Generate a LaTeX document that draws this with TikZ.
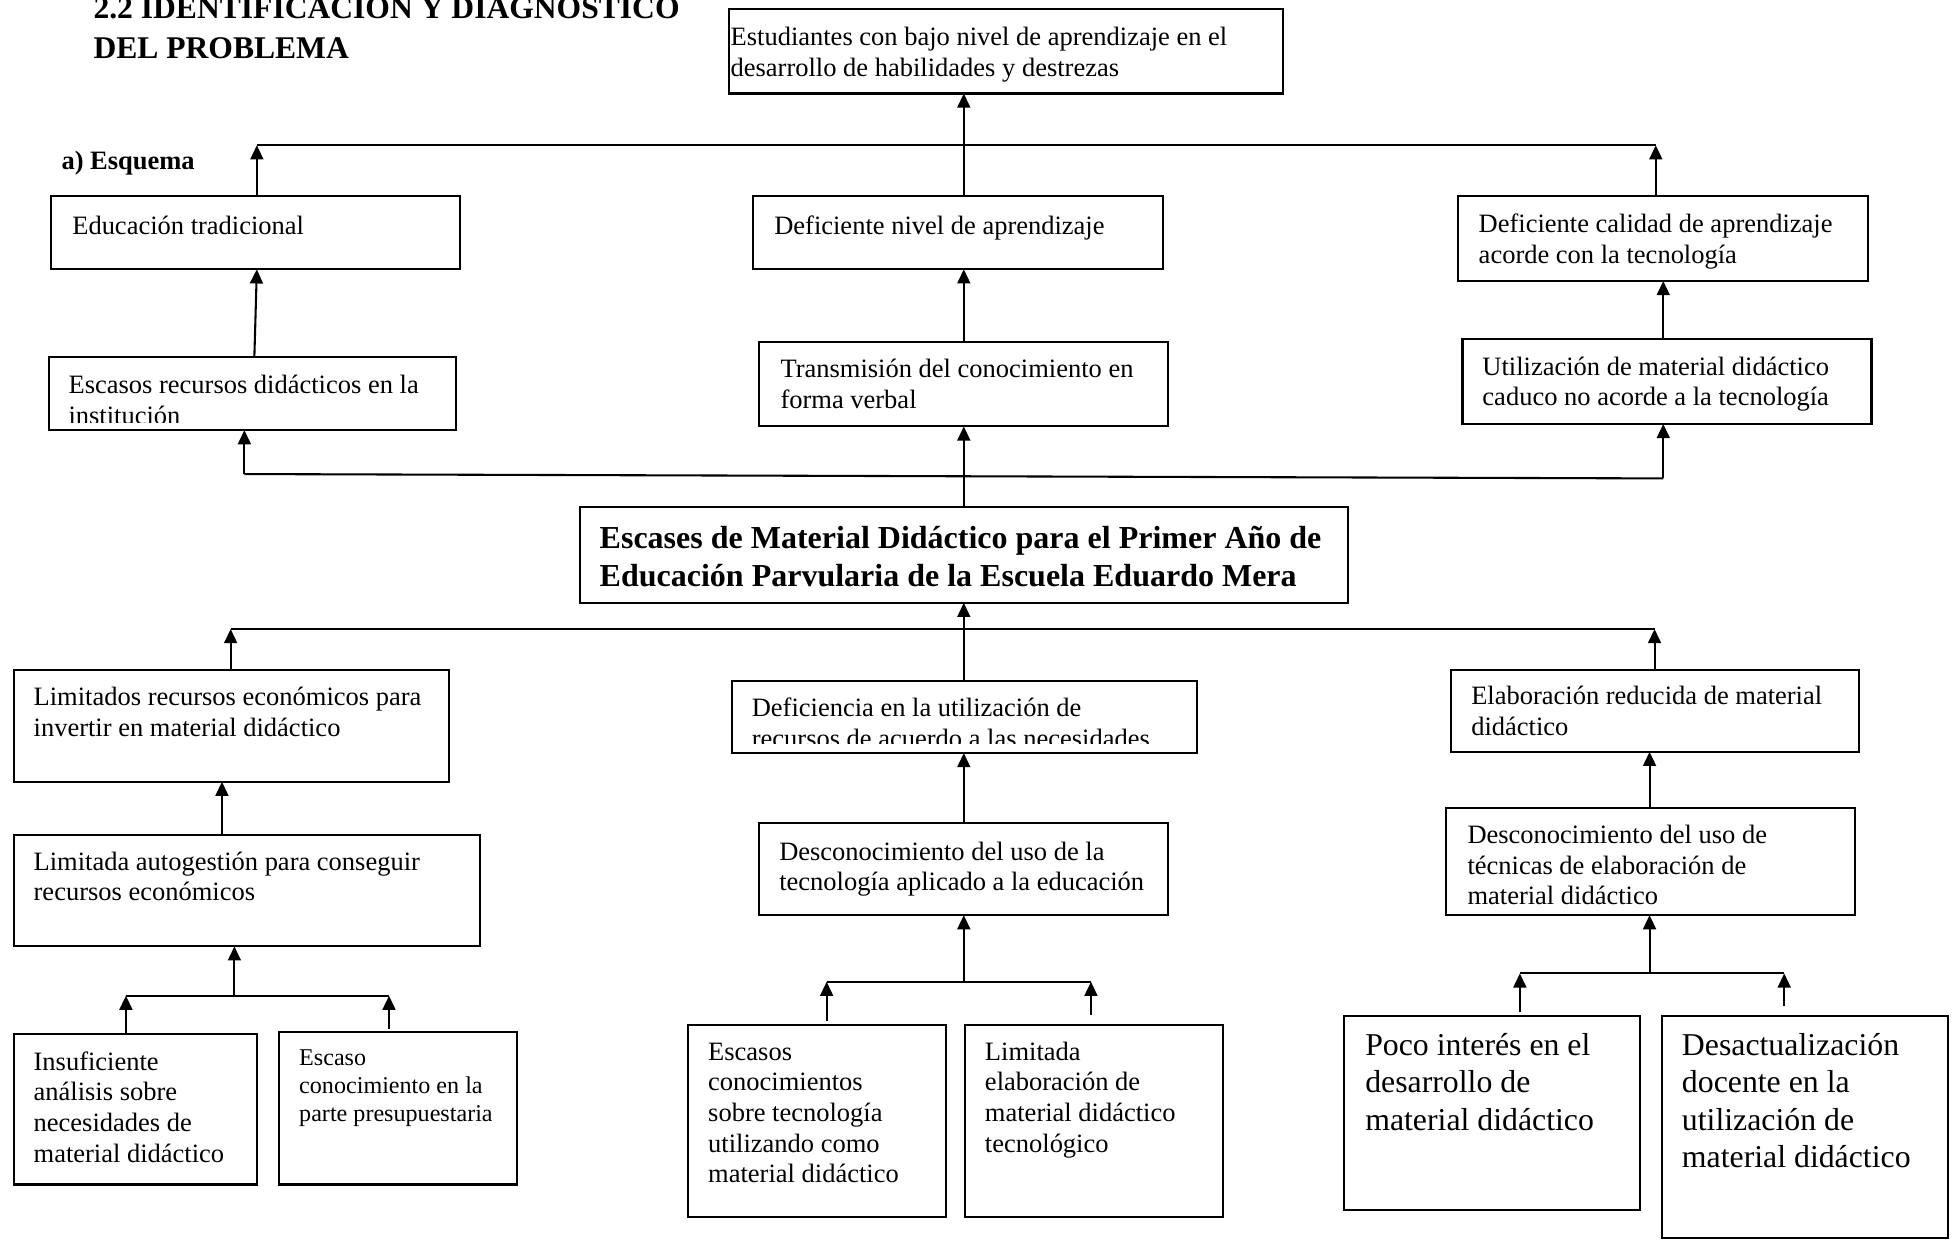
\documentclass[tikz,border=0pt]{standalone}
\usepackage{fontspec}
\setmainfont{Liberation Serif}
\usetikzlibrary{arrows.meta,calc}
\newcommand{\st}{\rule{0pt}{1em}}
\newcommand{\bx}[5]{\node[boxn,minimum width={(#4-#2)*0.6pt},minimum height={(#5-#3)*0.6pt}] (#1) at (#2,#3) {};}
\begin{document}
\begin{tikzpicture}[x=0.6pt,y=-0.6pt,
  boxn/.style={draw,line width=1pt,inner sep=0pt,outer sep=0pt,anchor=north west},
  reg/.style={inner sep=0pt,outer sep=0pt,anchor=north west,align=left,font=\fontsize{12.75}{14.75}\selectfont},
  sml/.style={reg,font=\fontsize{11.6}{13.6}\selectfont},
  big/.style={reg,font=\fontsize{15.3}{18.05}\selectfont},
  bld/.style={reg,font=\bfseries\fontsize{15.4}{18}\selectfont},
  ttl/.style={reg,font=\bfseries\fontsize{15.2}{19.2}\selectfont},
  arr/.style={-{Triangle[length=6.8pt,width=6.2pt]},line width=1pt},
  ln/.style={line width=1pt}]
\useasboundingbox (0,0) rectangle (1568,995);

% boxes
\bx{est}{585}{7.5}{1029}{75}
\bx{educ}{41}{157.5}{369}{216}
\bx{dniv}{604}{157.5}{933}{216}
\bx{dcal}{1169}{157.2}{1498}{225.4}
\bx{escrec}{39}{286.5}{366}{345}
\bx{trans}{609}{274}{937}{342}
\bx{util}{1173}{272.2}{1501}{340}
\bx{cen}{465}{406.4}{1081}{483.5}
\bx{limrec}{11}{537.4}{360}{627}
\bx{defic}{587}{546.2}{960}{604}
\bx{elab}{1164}{537}{1491}{603}
\bx{autog}{11}{669.7}{385}{759}
\bx{dtec}{609}{660.4}{937}{734}
\bx{dtecn}{1160}{648.3}{1488}{734}
\bx{insuf}{11}{829.3}{206}{950}
\bx{escaso}{224}{827.5}{415}{950}
\bx{escon}{552}{822}{759}{975.8}
\bx{limel}{774}{822}{981}{975.8}
\bx{poco}{1078}{815}{1315}{970.5}
\bx{desac}{1333}{815}{1562}{993.2}

% texts
\node[ttl] (title) at (75,15-25.33) {\st 2.2 IDENTIFICACIÓN Y DIAGNÓSTICO\\DEL PROBLEMA};
\node[inner sep=0pt,anchor=base west,font=\bfseries\fontsize{12.75}{14.75}\selectfont] (esq) at (49,136) {a) Esquema};
\node[reg] (t-est) at (586,36.5-21.25) {\st Estudiantes con bajo nivel de aprendizaje en el\\desarrollo de habilidades y destrezas};
\node[reg] (t-educ) at (58,188.3-21.25) {\st Educación tradicional};
\node[reg] (t-dniv) at (621,188.3-21.25) {\st Deficiente nivel de aprendizaje};
\node[reg] (t-dcal) at (1186,186.5-21.25) {\st Deficiente calidad de aprendizaje\\acorde con la tecnología};
\begin{scope}
\clip (39,286.5) rectangle (366,338.5);
\node[reg] (t-escrec) at (55,315.6-21.25) {\st Escasos recursos didácticos en la\\institución};
\end{scope}
\node[reg] (t-trans) at (626,303.1-21.25) {\st Transmisión del conocimiento en\\forma verbal};
\node[reg] (t-util) at (1189,300.9-21.25) {\st Utilización de material didáctico\\caduco no acorde a la tecnología};
\node[bld] (t-cen) at (481,440-25.67) {\st Escases de Material Didáctico para el Primer Año de\\Educación Parvularia de la Escuela Eduardo Mera};
\node[reg] (t-limrec) at (27,566.2-21.25) {\st Limitados recursos económicos para\\invertir en material didáctico};
\begin{scope}
\clip (587,546.2) rectangle (960,596.5);
\node[reg] (t-defic) at (603,575-21.25) {\st Deficiencia en la utilización de\\recursos de acuerdo a las necesidades};
\end{scope}
\node[reg] (t-elab) at (1180,565.1-21.25) {\st Elaboración reducida de material\\didáctico};
\node[reg] (t-autog) at (27,697.9-21.25) {\st Limitada autogestión para conseguir\\recursos económicos};
\node[reg] (t-dtec) at (625,689.9-21.25) {\st Desconocimiento del uso de la\\tecnología aplicado a la educación};
\node[reg] (t-dtecn) at (1177,676.5-21.25) {\st Desconocimiento del uso de\\técnicas de elaboración de\\material didáctico};
\node[reg] (t-insuf) at (27,858.4-21.25) {\st Insuficiente\\análisis sobre\\necesidades de\\material didáctico};
\node[sml] (t-escaso) at (240,854.4-19.33) {\st Escaso\\conocimiento en la\\parte presupuestaria};
\node[reg] (t-escon) at (568,850.3-21.25) {\st Escasos\\conocimientos\\sobre tecnología\\utilizando como\\material didáctico};
\node[reg] (t-limel) at (790,850.3-21.25) {\st Limitada\\elaboración de\\material didáctico\\tecnológico};
\node[big] (t-poco) at (1095,846.5-25.5) {\st Poco interés en el\\desarrollo de\\material didáctico};
\node[big] (t-desac) at (1349,846.5-25.5) {\st Desactualización\\docente en la\\utilización de\\material didáctico};

% coordinates
\coordinate (xm) at (773,0);
\coordinate (x204) at (204,0);
\coordinate (x178) at (178,0);
\coordinate (jtL) at (206,116.5);
\coordinate (jtR) at (1328,116.5);
\coordinate (jmL) at (196,380.2);
\coordinate (jmR) at (1334,383.7);
\coordinate (jbL) at (185,504.5);
\coordinate (jbR) at (1327,504.5);
\coordinate (jlL) at (101,798.6);
\coordinate (jlR) at (312,798.6);
\coordinate (jlC) at (188,798.6);
\coordinate (jcL) at (663,787.4);
\coordinate (jcR) at (875,787.4);
\coordinate (jcC) at (773,787.4);
\coordinate (jrL) at (1219,780.7);
\coordinate (jrR) at (1431,780.7);
\coordinate (jrC) at (1323,780.7);

% connectors: effects
\draw[arr] (dniv.north -| xm) -- (est.south -| xm);
\draw[ln] (jtL) -- (jtR);
\draw[arr] (educ.north -| jtL) -- (jtL);
\draw[arr] (dcal.north -| jtR) -- (jtR);
\draw[arr] (escrec.north -| x204) -- (educ.south -| jtL);
\draw[arr] (trans.north -| xm) -- (dniv.south -| xm);
\draw[arr] (util.north -| jmR) -- (dcal.south -| jmR);
\draw[arr] (cen.north -| xm) -- (trans.south -| xm);
\draw[ln] (jmL) -- (jmR);
\draw[arr] (jmL) -- (escrec.south -| jmL);
\draw[arr] (jmR) -- (util.south -| jmR);

% connectors: causes
\draw[arr] (defic.north -| xm) -- (cen.south -| xm);
\draw[ln] (jbL) -- (jbR);
\draw[arr] (limrec.north -| jbL) -- (jbL);
\draw[arr] (elab.north -| jbR) -- (jbR);
\draw[arr] (autog.north -| x178) -- (limrec.south -| x178);
\draw[arr] (dtec.north -| xm) -- (defic.south -| xm);
\draw[arr] (dtecn.north -| jrC) -- (elab.south -| jrC);

\draw[ln] (jlL) -- (jlR);
\draw[arr] (jlC) -- (autog.south -| jlC);
\draw[arr] (insuf.north -| jlL) -- (jlL);
\draw[arr] ($(escaso.north -| jlR)+(0,-2)$) -- (jlR);

\draw[ln] (jcL) -- (jcR);
\draw[arr] (jcC) -- (dtec.south -| jcC);
\draw[arr] ($(escon.north -| jcL)+(0,-3)$) -- (jcL);
\draw[arr] ($(limel.north -| jcR)+(0,-8)$) -- (jcR);

\draw[ln] (jrL) -- (jrR);
\draw[arr] (jrC) -- (dtecn.south -| jrC);
\draw[arr] ($(poco.north -| jrL)+(0,-3)$) -- (jrL);
\draw[arr] ($(desac.north -| jrR)+(0,-8)$) -- (jrR);
\end{tikzpicture}
\end{document}
